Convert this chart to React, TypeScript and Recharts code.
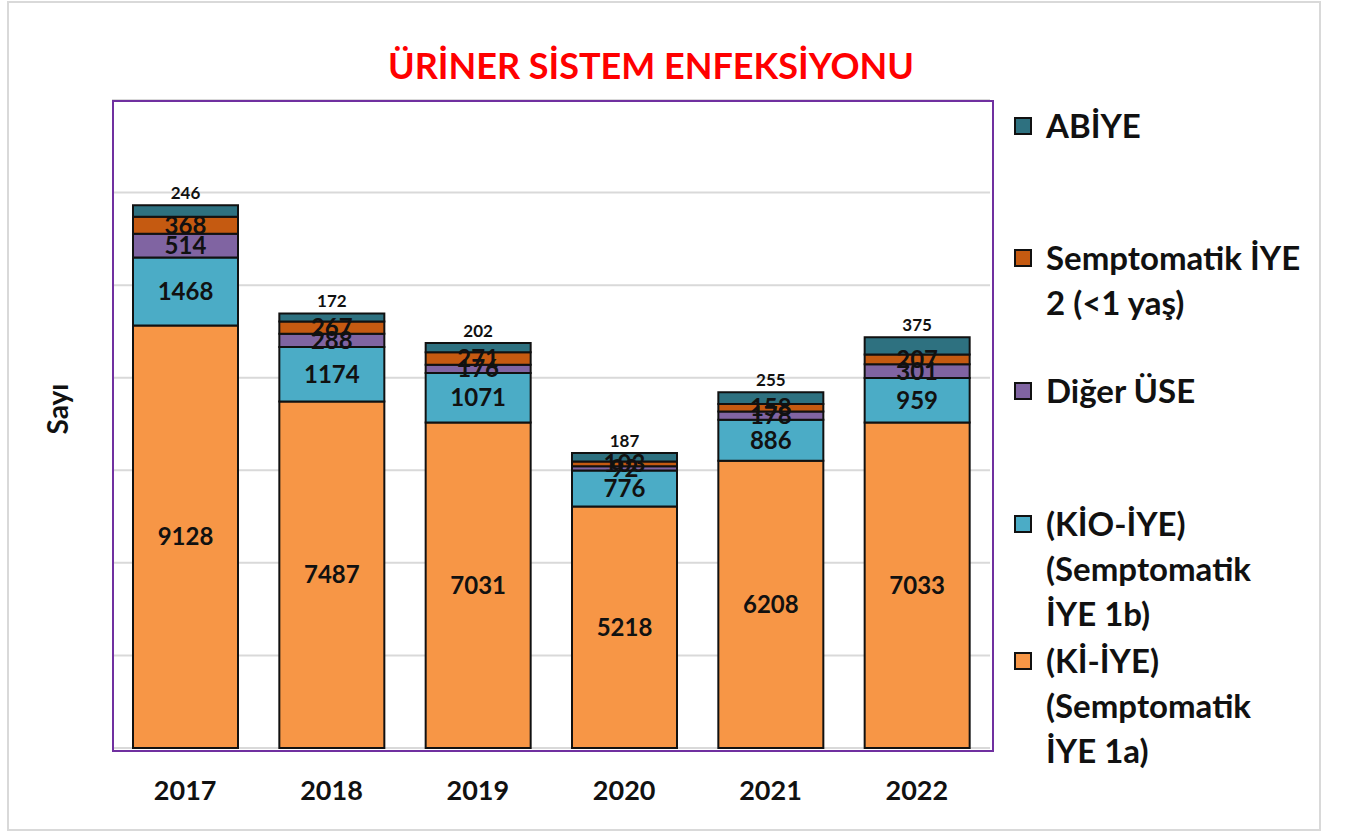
import React from "react";
import {
    BarChart,
    Bar,
    XAxis,
    YAxis,
    CartesianGrid,
    Legend,
    LabelList,
} from "recharts";

const years = ["2017", "2018", "2019", "2020", "2021", "2022"];

const kiIye = [9128, 7487, 7031, 5218, 6208, 7033];
const kioIye = [1468, 1174, 1071, 776, 886, 959];
const digerUse = [514, 288, 176, 92, 178, 301];
const semp2 = [368, 267, 271, 103, 158, 207];
const abiye = [246, 172, 202, 187, 255, 375];

const yTicks = [0, 2000, 4000, 6000, 8000, 10000, 12000, 14000];

const FONT = "Lato, 'Open Sans', sans-serif";

const series = [
    { key: "ki", name: "(Kİ-İYE) (Semptomatik İYE 1a)", lines: ["(Kİ-İYE)", "(Semptomatik", "İYE 1a)"], color: "#F79646", values: kiIye, top: false },
    { key: "kio", name: "(KİO-İYE) (Semptomatik İYE 1b)", lines: ["(KİO-İYE)", "(Semptomatik", "İYE 1b)"], color: "#4BACC6", values: kioIye, top: false },
    { key: "diger", name: "Diğer ÜSE", lines: ["Diğer ÜSE"], color: "#8064A2", values: digerUse, top: false },
    { key: "semp2", name: "Semptomatik İYE 2 (<1 yaş)", lines: ["Semptomatik İYE", "2 (<1 yaş)"], color: "#C55A11", values: semp2, top: false },
    { key: "abiye", name: "ABİYE", lines: ["ABİYE"], color: "#2E7180", values: abiye, top: true },
];

const data = years.map((year, i) => {
    const row: any = { year };
    series.forEach((s) => {
        row[s.key] = s.values[i];
    });
    return row;
});

// legend entries top to bottom (reverse of stack), first-line centers
const legendTops = [124, 256, 389, 522, 659];

const CustomLegend = () => {
    const items = [...series].reverse();
    return (
        <div style={{ position: "relative", width: 0, height: 0, overflow: "visible" }}>
            {items.map((s, i) => (
                <div
                    key={s.key}
                    style={{
                        position: "absolute",
                        left: 0,
                        top: legendTops[i] - 22,
                        display: "flex",
                        alignItems: "flex-start",
                    }}
                >
                    <span
                        style={{
                            display: "inline-block",
                            width: 14,
                            height: 14,
                            marginTop: 14,
                            marginRight: 14,
                            background: s.color,
                            border: "2px solid #111",
                            flexShrink: 0,
                        }}
                    />
                    <div
                        style={{
                            fontFamily: FONT,
                            fontWeight: 700,
                            fontSize: 33,
                            lineHeight: "45px",
                            color: "#111",
                            whiteSpace: "nowrap",
                        }}
                    >
                        {s.lines.map((l) => (
                            <div key={l}>{l}</div>
                        ))}
                    </div>
                </div>
            ))}
        </div>
    );
};

export default function App() {
    return (
        <div
            style={{
                position: "absolute",
                left: 7,
                top: 1,
                width: 1314,
                height: 830,
                border: "2px solid #D9D9D9",
                boxSizing: "border-box",
                background: "#fff",
                fontFamily: FONT,
            }}
        >
            <div
                style={{
                    position: "absolute",
                    left: -14,
                    width: 1312,
                    top: 40,
                    textAlign: "center",
                    color: "#FF0000",
                    fontWeight: 700,
                    fontSize: 36,
                }}
            >
                ÜRİNER SİSTEM ENFEKSİYONU
            </div>
            <div
                style={{
                    position: "absolute",
                    left: 48 - 80,
                    top: 406 - 20,
                    width: 160,
                    textAlign: "center",
                    transform: "rotate(-90deg)",
                    fontWeight: 700,
                    fontSize: 28,
                    color: "#111",
                    lineHeight: "40px",
                }}
            >
                Sayı
            </div>
            <div style={{ position: "absolute", left: -2, top: -2 }}>
                <BarChart
                    width={1314}
                    height={830}
                    data={data}
                    margin={{ top: 99, right: 331, left: 105, bottom: 43 }}
                    barSize={105}
                >
                    <CartesianGrid vertical={false} stroke="#D9D9D9" strokeWidth={2} />
                    <XAxis
                        dataKey="year"
                        height={40}
                        axisLine={false}
                        tickLine={false}
                        tickSize={0}
                        tickMargin={33}
                        tick={{ fill: "#111", fontSize: 27, fontWeight: 700, fontFamily: FONT }}
                    />
                    <YAxis hide domain={[0, 14000]} ticks={yTicks} />
                    <Legend
                        layout="horizontal"
                        align="right"
                        verticalAlign="middle"
                        wrapperStyle={{ position: "absolute", left: 1007, top: 0, width: 0, height: 0 }}
                        content={<CustomLegend />}
                    />
                    {series.map((s) => (
                        <Bar
                            key={s.key}
                            dataKey={s.key}
                            name={s.name}
                            stackId="a"
                            fill={s.color}
                            stroke="#111"
                            strokeWidth={2}
                            isAnimationActive={false}
                        >
                            <LabelList
                                dataKey={s.key}
                                position={s.top ? "top" : "center"}
                                offset={6}
                                fill="#111"
                                fontSize={s.top ? 17 : 24}
                                fontWeight={700}
                                fontFamily={FONT}
                            />
                        </Bar>
                    ))}
                </BarChart>
            </div>
            <div
                style={{
                    position: "absolute",
                    left: 103,
                    top: 97,
                    width: 878,
                    height: 648,
                    border: "2px solid #7030A0",
                    pointerEvents: "none",
                }}
            />
        </div>
    );
}
